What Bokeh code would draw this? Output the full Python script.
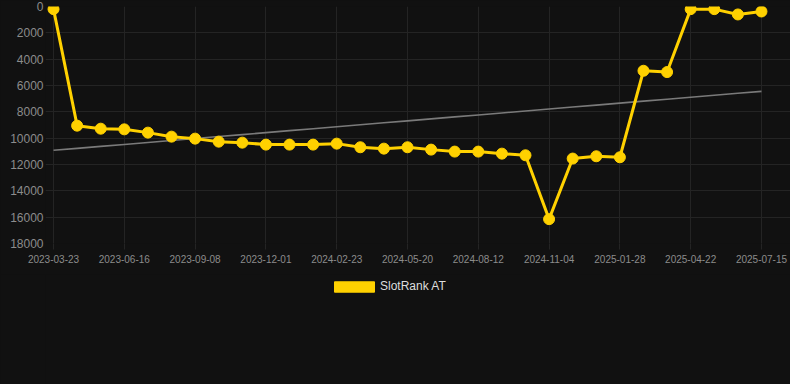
import numpy as np
from bokeh.plotting import figure
from bokeh.layouts import column
from bokeh.models import (Range1d, FixedTicker, ColumnDataSource, Legend, LegendItem)
from bokeh.embed import file_html
from bokeh.resources import INLINE

dates = ["2023-03-23", "2023-04-20", "2023-05-19", "2023-06-16", "2023-07-14", "2023-08-11",
         "2023-09-08", "2023-10-06", "2023-11-03", "2023-12-01", "2023-12-29", "2024-01-26",
         "2024-02-23", "2024-03-22", "2024-04-22", "2024-05-20", "2024-06-17", "2024-07-15",
         "2024-08-12", "2024-09-09", "2024-10-07", "2024-11-04", "2024-12-02", "2024-12-31",
         "2025-01-28", "2025-02-25", "2025-03-25", "2025-04-22", "2025-05-20", "2025-06-17",
         "2025-07-15"]
rank = [200, 9050, 9280, 9330, 9580, 9885, 10035, 10265, 10340, 10490, 10490, 10490,
        10415, 10690, 10795, 10690, 10870, 11020, 11020, 11175, 11300, 16150, 11550, 11375,
        11450, 4880, 4980, 200, 200, 605, 380]
y_ticks = [0, 2000, 4000, 6000, 8000, 10000, 12000, 14000, 16000, 18000]
series_name = "SlotRank AT"

idx = list(range(len(dates)))
tick_idx = idx[::3]
slope, intercept = np.polyfit(idx, rank, 1)
trend = [slope * i + intercept for i in idx]

BG = "#111111"
GRID = "#242424"
GOLD = "#FFD100"
FONT = "Liberation Sans"
W = 790

p = figure(width=W, height=274, output_backend="svg", toolbar_location=None,
           x_range=Range1d(-0.34, 31.23), y_range=Range1d(18000, 0),
           min_border_left=45, min_border_right=0, min_border_top=6, min_border_bottom=31)
p.background_fill_color = BG
p.border_fill_color = BG
p.outline_line_color = None
p.styles = {"background-color": BG}

p.xgrid.ticker = FixedTicker(ticks=tick_idx)
p.ygrid.ticker = FixedTicker(ticks=y_ticks)
p.xgrid.grid_line_color = GRID
p.ygrid.grid_line_color = GRID

p.xaxis.ticker = FixedTicker(ticks=tick_idx)
p.xaxis.major_label_overrides = {i: dates[i] for i in tick_idx}
p.yaxis.ticker = FixedTicker(ticks=y_ticks)
for ax in (p.xaxis, p.yaxis):
    ax.axis_line_color = None
    ax.minor_tick_line_color = None
    ax.major_label_text_color = "#8c8c8c"
    ax.major_label_text_font = FONT
p.xaxis.major_tick_line_color = GRID
p.xaxis.major_tick_out = 6
p.xaxis.major_tick_in = 0
p.xaxis.major_label_standoff = 5
p.xaxis.major_label_text_font_size = "10px"
p.yaxis.major_tick_line_color = None
p.yaxis.major_tick_out = 0
p.yaxis.major_tick_in = 0
p.yaxis.major_label_standoff = 2
p.yaxis.major_label_text_font_size = "12px"

src = ColumnDataSource(dict(x=idx, y=rank, t=trend))
p.line("x", "t", source=src, line_color="#7a7a7a", line_width=1.6)
p.line("x", "y", source=src, line_color=GOLD, line_width=3)
p.scatter("x", "y", source=src, size=11, fill_color=GOLD, line_color=GOLD)

# legend strip below the chart (proxy glyph lies outside the visible range)
p2 = figure(width=W, height=110, output_backend="svg", toolbar_location=None,
            x_range=Range1d(0, 1), y_range=Range1d(0, 1),
            min_border_left=0, min_border_right=0, min_border_top=0, min_border_bottom=0)
p2.background_fill_color = BG
p2.border_fill_color = BG
p2.outline_line_color = None
p2.styles = {"background-color": BG}
p2.axis.visible = False
p2.grid.visible = False
leg_src = ColumnDataSource(dict(l=[5], r=[6], t=[6], b=[5]))
leg_r = p2.quad(left="l", right="r", top="t", bottom="b", source=leg_src,
                fill_color=GOLD, line_color=GOLD)
legend = Legend(items=[LegendItem(label=series_name, renderers=[leg_r])],
                location=(284, 91), orientation="horizontal",
                background_fill_alpha=0, border_line_alpha=0,
                label_text_color="#dddddd", label_text_font=FONT,
                label_text_font_size="12px", glyph_width=50, glyph_height=13,
                label_standoff=1, margin=0, padding=0)
p2.add_layout(legend, "center")

layout = column(p, p2, spacing=0)
layout.styles = {"background-color": BG}
open("out.html", "w").write(file_html(layout, INLINE))
